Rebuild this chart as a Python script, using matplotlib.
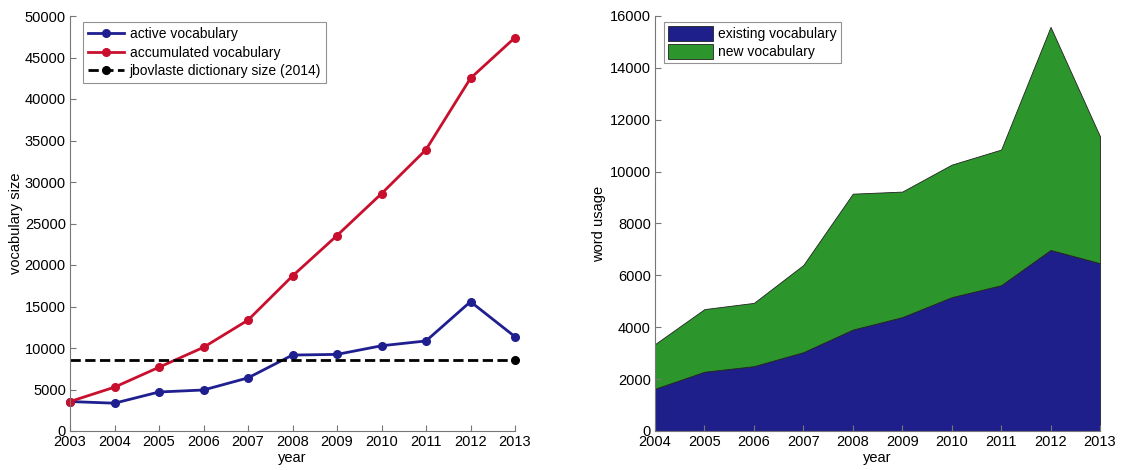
import matplotlib
matplotlib.use("Agg")
import matplotlib.pyplot as plt
import numpy as np

plt.rcParams['font.family'] = ['Liberation Sans', 'DejaVu Sans']

# Vocabulary per year
years = [2003, 2004, 2005, 2006, 2007, 2008, 2009, 2010, 2011, 2012, 2013]
active_vocab = [3550, 3350, 4700, 4940, 6400, 9150, 9230, 10270, 10850, 15580, 11360]
accumulated_vocab = [3550, 5280, 7680, 10080, 13360, 18680, 23550, 28600, 33900, 42500, 47400]
dictionary_size = 8600

# Word usage split into existing and new vocabulary
usage_years = [2004, 2005, 2006, 2007, 2008, 2009, 2010, 2011, 2012, 2013]
existing_vocab = [1630, 2285, 2500, 3040, 3910, 4390, 5160, 5620, 6980, 6470]
new_vocab = [1720, 2415, 2440, 3360, 5240, 4840, 5110, 5230, 8600, 4890]

blue = '#1f1f8f'
red = '#c8102e'
green = '#2c952c'
navy = '#1f1f8c'
spine_gray = '#777777'

fig = plt.figure(figsize=(11.21, 4.70), dpi=100)
ax1 = fig.add_axes([70 / 1121, 39 / 470, 445 / 1121, 415 / 470])
ax2 = fig.add_axes([655 / 1121, 39 / 470, 445 / 1121, 415 / 470])


def style_axes(ax):
    for side in ('top', 'right'):
        ax.spines[side].set_visible(False)
    for side in ('left', 'bottom'):
        ax.spines[side].set_color(spine_gray)
        ax.spines[side].set_linewidth(0.8)
    ax.tick_params(direction='in', length=4, width=0.8, color=spine_gray,
                   labelsize=10.5, labelcolor='black', pad=3)


# Left panel: vocabulary size
ax1.plot(years, active_vocab, '-o', color=blue, lw=2, ms=5.5, label='active vocabulary')
ax1.plot(years, accumulated_vocab, '-o', color=red, lw=2, ms=5.5, label='accumulated vocabulary')
ax1.plot([years[0], years[-1]], [dictionary_size, dictionary_size], '--o', color='black',
         lw=2, ms=5.5, markevery=[1], label='jbovlaste dictionary size (2014)')
ax1.set_xlim(2003, 2013)
ax1.set_ylim(0, 50000)
ax1.set_xticks(years)
ax1.set_yticks(np.arange(0, 50001, 5000))
ax1.set_xlabel('year', fontsize=10.5, labelpad=1)
ax1.set_ylabel('vocabulary size', fontsize=10.5, labelpad=1)
style_axes(ax1)
for ln in ax1.get_lines():
    ln.set_clip_on(False)
leg1 = ax1.legend(loc='upper left', bbox_to_anchor=(0.03, 0.985), fontsize=10,
                  frameon=True, fancybox=False, edgecolor=spine_gray, borderpad=0.35,
                  labelspacing=0.32, handlelength=2.6, handletextpad=0.4, borderaxespad=0)
leg1.get_frame().set_linewidth(0.8)

# Right panel: stacked word usage
ax2.stackplot(usage_years, existing_vocab, new_vocab, colors=[navy, green],
              labels=['existing vocabulary', 'new vocabulary'],
              edgecolor='#222222', linewidth=0.6)
ax2.set_xlim(2004, 2013)
ax2.set_ylim(0, 16000)
ax2.set_xticks(usage_years)
ax2.set_yticks(np.arange(0, 16001, 2000))
ax2.set_xlabel('year', fontsize=10.5, labelpad=1)
ax2.set_ylabel('word usage', fontsize=10.5, labelpad=3)
style_axes(ax2)
leg2 = ax2.legend(loc='upper left', bbox_to_anchor=(0.02, 0.985), fontsize=10,
                  frameon=True, fancybox=False, edgecolor=spine_gray, borderpad=0.3,
                  labelspacing=0.2, handlelength=3.2, handleheight=1.25,
                  handletextpad=0.4, borderaxespad=0)
leg2.get_frame().set_linewidth(0.8)

fig.savefig('out.png', dpi=100)
